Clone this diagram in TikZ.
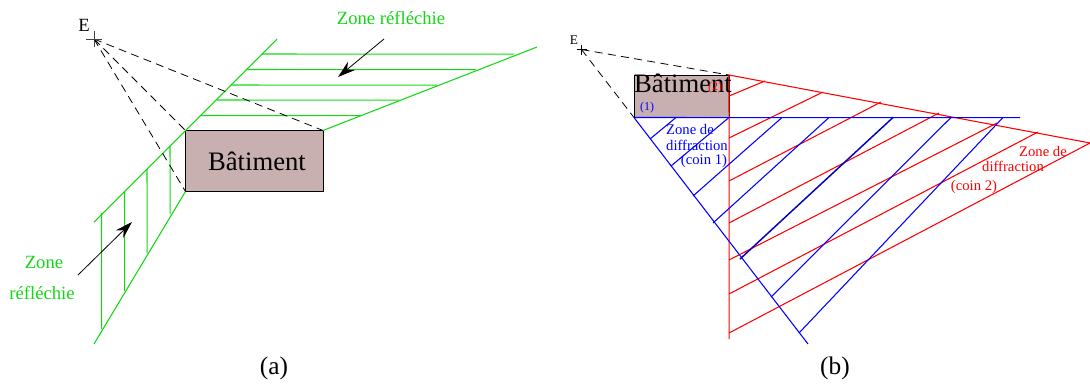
\documentclass[tikz,border=0pt]{standalone}
\usepackage{fontspec}
\usetikzlibrary{arrows.meta}
\setmainfont{Liberation Serif}
\definecolor{zonegreen}{RGB}{20,215,20}
\definecolor{batcolor}{RGB}{201,176,176}
\tikzset{
  txt/.style={inner sep=0pt,font=\fontsize{#1}{#1}\selectfont},
  reflet/.style={color=zonegreen,line width=0.8pt},
  coinun/.style={color=blue,line width=0.8pt},
  coindeux/.style={color=red,line width=0.8pt},
  rayon/.style={color=black,dash pattern=on 6pt off 4pt,line width=0.6pt},
  fleche/.style={color=black,line width=0.6pt,-{Stealth[length=13pt,width=8pt]}},
  batiment/.style={draw=black,fill=batcolor,line width=0.75pt},
}
\begin{document}
\begin{tikzpicture}[x=0.75pt,y=-0.75pt]
        \useasboundingbox (0,0) rectangle (1090,387);
        % figure (a)
        \path
            (94, 39) coordinate (E1)
            (185.5, 130.5) coordinate (A1)
            (323, 130.5) coordinate (B1)
            (323, 191.5) coordinate (C1)
            (185.5, 191.5) coordinate (D1)
            (277, 39) coordinate (haut1)
            (94, 222) coordinate (bas1)
            (94, 344) coordinate (bas2)
            (537, 47) coordinate (haut2)
            (78, 275) coordinate (f1)
            (132, 222) coordinate (f2)
            (384, 39) coordinate (f3)
            (338, 77) coordinate (f4);
        \draw[batiment] (A1) rectangle (C1);
        \begin{scope}[reflet]
            \draw (bas1) -- (A1) -- (haut1);
            \draw (bas2) -- (D1);
            \draw (B1) -- (haut2);
            \draw (262, 54) -- (514, 54.2);
            \draw (247, 69.5) -- (476, 69.7);
            \draw (231, 85) -- (437, 85.2);
            \draw (217, 100) -- (399, 100.2);
            \draw (201, 115.5) -- (361, 115.7);
            \draw (101.5, 213) -- (101.7, 329);
            \draw (124.5, 192) -- (124.7, 291);
            \draw (147, 169) -- (147.2, 253);
            \draw (170, 146) -- (170.2, 214);
        \end{scope}
        \begin{scope}[rayon]
            \draw (E1) -- (B1);
            \draw (E1) -- (A1);
            \draw (E1) -- (D1);
        \end{scope}
        \draw[line width=0.5pt,black!75] (E1) +(-8,0) -- +(8,0) (E1) +(0,-8) -- +(0,8);
        \draw[fleche] (f1) -- (f2);
        \draw[fleche] (f3) -- (f4);
        \node[txt=14] (e1txt) at (84, 25) {E};
        \node[txt=20] (bat1) at (257, 161) {Bâtiment};
        \node[txt=14,text=zonegreen] (zone1) at (391, 18) {Zone réfléchie};
        \node[txt=14,text=zonegreen] (zone2) at (44, 262) {Zone};
        \node[txt=14,text=zonegreen] (zone3) at (42, 293) {réfléchie};
        \node[txt=19] (leg1) at (274, 368) {(a)};
        % figure (b)
        \path
            (581.5, 49.5) coordinate (E2)
            (634, 75) coordinate (A2)
            (729, 75) coordinate (B2)
            (729, 117.5) coordinate (C2)
            (634, 117.5) coordinate (D2)
            (729.2, 339) coordinate (rouge1)
            (1090, 143) coordinate (rouge2)
            (1020, 117.7) coordinate (bleu1)
            (808, 344) coordinate (bleu2);
        \draw[batiment] (A2) rectangle (C2);
        \begin{scope}[coindeux]
            \draw (B2) -- (rouge1);
            \draw (B2) -- (rouge2);
            \draw (729, 96) -- (765, 81);
            \draw (729, 138) -- (823, 92);
            \draw (729, 181) -- (881, 102);
            \draw (729, 223) -- (939, 113);
            \draw (729, 260) -- (997, 123);
            \draw (729, 294) -- (1038, 132);
            \draw (729, 333) -- (rouge2);
        \end{scope}
        \begin{scope}[coinun]
            \draw (D2) -- (bleu1);
            \draw (D2) -- (bleu2);
            \draw (650, 139) -- (676, 117.5);
            \draw (671, 166) -- (C2);
            \draw (693, 196) -- (782, 117.5);
            \draw (713, 223) -- (829, 117.5);
            \draw[line width=1.1pt,blue!75!black] (740, 259) -- (893, 117.5);
            \draw (771, 297) -- (951, 117.5);
            \draw (799, 333) -- (1003, 117.5);
        \end{scope}
        \begin{scope}[rayon]
            \draw (E2) -- (D2);
            \draw (E2) -- (B2);
        \end{scope}
        \draw[line width=0.5pt] (E2) +(-5,0) -- +(5,0) (E2) +(0,-5) -- +(0,5);
        \node[txt=10] (e2txt) at (574, 40) {E};
        \node[txt=20] (bat2) at (683, 83) {Bâtiment};
        \node[txt=9,text=red] (num2) at (715, 88) {(2)};
        \node[txt=9,text=blue] (num1) at (647, 108) {(1)};
        \node[txt=11,text=blue] (cb1) at (690, 129) {Zone de};
        \node[txt=11,text=blue] (cb2) at (697, 145) {diffraction};
        \node[txt=11,text=blue] (cb3) at (704, 161) {(coin 1)};
        \node[txt=11,text=red] (cr1) at (1043, 151) {Zone de};
        \node[txt=11,text=red] (cr2) at (1013, 166) {diffraction};
        \node[txt=11,text=red] (cr3) at (974, 187) {(coin 2)};
        \node[txt=19] (leg2) at (835, 368) {(b)};
\end{tikzpicture}
\end{document}
